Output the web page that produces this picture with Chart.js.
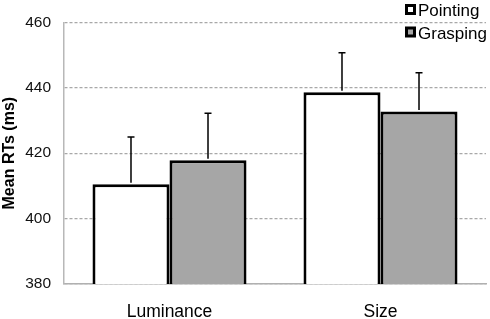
<!DOCTYPE html>
<html><head><meta charset="utf-8">
<script src="https://cdn.jsdelivr.net/npm/chart.js@4"></script>
<style>html,body{margin:0;padding:0;background:#fff}#wrap{width:490px;height:319px}</style>
</head><body><div id="wrap"><canvas id="c" width="490" height="319"></canvas></div>
<script>
const categories = ["Luminance", "Size"];
const seriesNames = ["Pointing", "Grasping"];
const pointingMeans = [410.5, 438.6];
const graspingMeans = [417.8, 432.7];
const pointingErr = [14.4, 12.1];
const graspingErr = [14.4, 11.9];
const yTicks = [380, 400, 420, 440, 460];

const FONT = '"Liberation Sans", Arial, sans-serif';

const errorBars = {
  id: 'errorBars',
  afterDatasetsDraw(chart) {
    const ctx = chart.ctx, y = chart.scales.y;
    chart.data.datasets.forEach((ds, i) => {
      const meta = chart.getDatasetMeta(i);
      meta.data.forEach((bar, j) => {
        const top = y.getPixelForValue(ds.data[j] + ds.err[j]);
        const base = bar.y;
        ctx.save();
        ctx.strokeStyle = '#000'; ctx.lineWidth = 1.5;
        ctx.beginPath();
        ctx.moveTo(bar.x, base - 1.5); ctx.lineTo(bar.x, top);
        ctx.moveTo(bar.x - 3.5, top); ctx.lineTo(bar.x + 3.5, top);
        ctx.stroke();
        ctx.restore();
      });
    });
  }
};

const legendBox = {
  id: 'legendBox',
  afterDraw(chart) {
    const ctx = chart.ctx;
    chart.data.datasets.forEach((ds, i) => {
      const bx = 406.5, by = 5.5 + i * 22.5;
      ctx.save();
      ctx.fillStyle = ds.backgroundColor;
      ctx.strokeStyle = '#000'; ctx.lineWidth = 3;
      ctx.fillRect(bx, by, 8, 8);
      ctx.strokeRect(bx, by, 8, 8);
      ctx.fillStyle = '#000';
      ctx.font = '17px ' + FONT;
      ctx.textBaseline = 'alphabetic';
      ctx.fillText(ds.label, 418, 16 + i * 22.5);
      ctx.restore();
    });
  }
};

new Chart(document.getElementById('c'), {
  type: 'bar',
  data: {
    labels: categories,
    datasets: [
      { label: seriesNames[0], data: pointingMeans, err: pointingErr, backgroundColor: '#ffffff', borderColor: '#000', borderWidth: 3, borderSkipped: 'bottom' },
      { label: seriesNames[1], data: graspingMeans, err: graspingErr, backgroundColor: '#a6a6a6', borderColor: '#000', borderWidth: 3, borderSkipped: 'bottom' }
    ]
  },
  options: {
    responsive: false,
    animation: false,
    layout: { padding: { left: 0, right: 4, top: 19, bottom: 0 } },
    datasets: { bar: { categoryPercentage: 0.73, barPercentage: 1.0 } },
    plugins: { legend: { display: false }, tooltip: { enabled: false } },
    scales: {
      x: {
        grid: { display: false },
        border: { display: true, color: '#b0b0b0', width: 1.5 },
        ticks: { color: '#000', font: { family: FONT, size: 17.5 }, padding: 10 },
        afterFit(s) { s.height = 35; }
      },
      y: {
        min: 380, max: 460,
        afterBuildTicks(s) { s.ticks = yTicks.map(v => ({ value: v })); },
        grid: { color: '#a8a8a8', drawTicks: false, lineWidth: 1.2 },
        border: { display: true, color: '#b8b8b8', width: 1.5, dash: [3, 2] },
        ticks: { color: '#111', font: { family: FONT, size: 15.5 }, padding: 13 },
        title: { display: true, text: 'Mean RTs (ms)', color: '#000', font: { family: FONT, size: 16, weight: 'bold' }, padding: 0 },
        afterFit(s) { s.width = 64; }
      }
    }
  },
  plugins: [errorBars, legendBox]
});
</script></body></html>
